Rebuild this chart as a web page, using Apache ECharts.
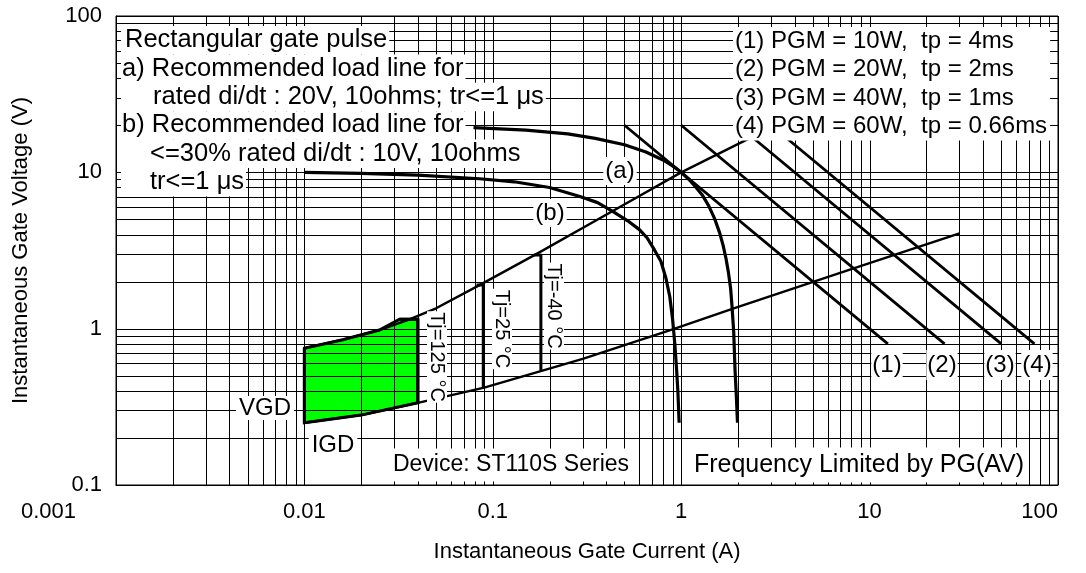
<!DOCTYPE html>
<html>
<head>
<meta charset="utf-8">
<title>Gate characteristics</title>
<script src="https://cdn.jsdelivr.net/npm/echarts@6/dist/echarts.min.js"></script>
<style>
  html, body { margin: 0; padding: 0; background: #fff; }
  #chart { width: 1086px; height: 573px; }
</style>
</head>
<body>
<div id="chart"></div>
<script>
// [gate current (A), gate voltage (V)]
const loadLineA = [[0.079, 19.3], [0.15, 18.6], [0.25, 17.6], [0.35, 16.5], [0.5, 15], [0.65, 13.5],
  [0.8, 12], [0.9, 11], [1, 10], [1.1, 9], [1.2, 8], [1.3, 7.1], [1.4, 6.1], [1.5, 5.1], [1.6, 4.1],
  [1.67, 3.4], [1.73, 2.8], [1.78, 2.3], [1.83, 1.8], [1.86, 1.4], [1.9, 0.95], [1.93, 0.55],
  [1.96, 0.38], [1.99, 0.25]];
const loadLineB = [[0.01, 10], [0.02, 9.85], [0.04, 9.6], [0.085, 9.1], [0.13, 8.7], [0.2, 8.0],
  [0.29, 7.0], [0.36, 6.4], [0.435, 5.6], [0.52, 4.9], [0.6, 4.3], [0.66, 3.8], [0.72, 3.2],
  [0.78, 2.7], [0.83, 2.1], [0.87, 1.6], [0.9, 1.15], [0.925, 0.8], [0.945, 0.55], [0.96, 0.4],
  [0.975, 0.25]];
const upperLimit = [[0.01, 0.75], [0.016, 0.85], [0.025, 0.98], [0.035, 1.13], [0.05, 1.35], [0.085, 1.9],
  [0.17, 3.0], [0.45, 5.8], [1, 10], [2.3, 16.5]];
const lowerLimit = [[0.01, 0.25], [0.02, 0.28], [0.04, 0.335], [0.09, 0.42], [0.3, 0.64], [0.9, 0.99],
  [1.9, 1.35], [8, 2.4], [30, 4.07]];
const tj125 = [[0.032, 1.15], [0.04, 1.15], [0.04, 0.336]];
const tj25 = [[0.082, 1.9], [0.089, 1.9], [0.089, 0.42]];
const tjMinus40 = [[0.165, 2.96], [0.18, 2.96], [0.18, 0.54]];
const vgdLine = [[0.01, 0.25], [0.01, 0.75]];
const greenArea = [[0.01, 0.75], [0.016, 0.85], [0.025, 0.98], [0.032, 1.15], [0.04, 1.15],
  [0.04, 0.336], [0.02, 0.28], [0.01, 0.25]];
const pgm1 = [[0.5, 20], [12.5, 0.8]];
const pgm2 = [[1, 20], [25, 0.8]];
const pgm3 = [[2, 20], [50, 0.8]];
const pgm4 = [[3, 20], [75, 0.8]];

const xDecades = [0.001, 0.01, 0.1, 1, 10, 100];
const yDecades = [0.1, 1, 10, 100];

const FONT = '"Liberation Sans", Arial, Helvetica, sans-serif';

function gridValues(decades) {
  const out = [];
  for (let i = 0; i < decades.length - 1; i++) {
    for (let k = 1; k <= 9; k++) out.push(parseFloat((k * decades[i]).toPrecision(3)));
  }
  out.push(decades[decades.length - 1]);
  return out;
}
const xGrid = gridValues(xDecades);
const yGrid = gridValues(yDecades);

function fmt(v) {
  return String(parseFloat(Number(v).toPrecision(4)));
}

// polygon clipping against one cell of the paper (Sutherland-Hodgman)
function clipEdge(pts, inside, cross) {
  const out = [];
  for (let i = 0; i < pts.length; i++) {
    const cur = pts[i], prev = pts[(i + pts.length - 1) % pts.length];
    const cin = inside(cur), pin = inside(prev);
    if (cin) {
      if (!pin) out.push(cross(prev, cur));
      out.push(cur);
    } else if (pin) {
      out.push(cross(prev, cur));
    }
  }
  return out;
}
function atX(a, b, x) { const t = (x - a[0]) / (b[0] - a[0]); return [x, a[1] + t * (b[1] - a[1])]; }
function atY(a, b, y) { const t = (y - a[1]) / (b[1] - a[1]); return [a[0] + t * (b[0] - a[0]), y]; }
function clipRect(pts, x0, x1, y0, y1) {
  pts = clipEdge(pts, function (p) { return p[0] >= x0; }, function (a, b) { return atX(a, b, x0); });
  if (pts.length) pts = clipEdge(pts, function (p) { return p[0] <= x1; }, function (a, b) { return atX(a, b, x1); });
  if (pts.length) pts = clipEdge(pts, function (p) { return p[1] >= y0; }, function (a, b) { return atY(a, b, y0); });
  if (pts.length) pts = clipEdge(pts, function (p) { return p[1] <= y1; }, function (a, b) { return atY(a, b, y1); });
  return pts;
}

function curve(name, data, width) {
  return {
    name: name, type: 'line', data: data, z: 3, silent: true,
    showSymbol: false, symbol: 'none', animation: false,
    lineStyle: { color: '#000', width: width, join: 'round' }
  };
}

function label(text, x, y, opts) {
  opts = opts || {};
  return {
    type: 'text', x: x, y: y, z: 100, silent: true,
    rotation: opts.rotation || 0,
    style: {
      text: text, fill: '#000',
      fontSize: opts.fontSize || 24, fontFamily: FONT,
      align: opts.align || 'center', verticalAlign: opts.verticalAlign || 'middle',
      lineHeight: opts.lineHeight,
      backgroundColor: '#fff',
      padding: opts.padding || [2, 2]
    }
  };
}

const noteRows = [
  ['Rectangular gate pulse', 4],
  ['a) Recommended load line for', 1],
  ['rated di/dt : 20V, 10ohms; tr<=1 μs', 32],
  ['b) Recommended load line for', 1],
  ['<=30% rated di/dt : 10V, 10ohms', 29],
  ['tr<=1 μs', 29]
];

const graphics = [];
noteRows.forEach(function (row, i) {
  graphics.push(label(row[0], 121, 26 + i * 28.4,
    { align: 'left', verticalAlign: 'top', fontSize: 25.5, lineHeight: 28.5, padding: [0, 2, 0, row[1]] }));
});
graphics.push(label([
  '(1) PGM = 10W,  tp = 4ms',
  '(2) PGM = 20W,  tp = 2ms',
  '(3) PGM = 40W,  tp = 1ms',
  '(4) PGM = 60W,  tp = 0.66ms'
].join('\n'), 733, 27, { align: 'left', verticalAlign: 'top', lineHeight: 28.4, padding: [0, 3, 0, 2] }));

graphics.push(label('(a)', 620, 171));
graphics.push(label('(b)', 550, 213));
graphics.push(label('Tj=125 °C', 437, 357, { rotation: -Math.PI / 2, fontSize: 20, padding: [0, 1] }));
graphics.push(label('Tj=25 °C', 502, 329, { rotation: -Math.PI / 2, fontSize: 20, padding: [0, 1] }));
graphics.push(label('Tj=-40 °C', 554, 306, { rotation: -Math.PI / 2, fontSize: 20, padding: [0, 1] }));
graphics.push(label('VGD', 265, 408, { padding: [0, 3] }));
graphics.push(label('IGD', 333, 445, { padding: [1, 3] }));
graphics.push(label('Device: ST110S Series', 511, 465, { fontSize: 23, padding: [5, 4] }));
graphics.push(label('Frequency Limited by PG(AV)', 859, 465, { fontSize: 25, padding: [5, 3] }));
graphics.push(label('(1)', 887, 365, { padding: [3, 1] }));
graphics.push(label('(2)', 942, 365, { padding: [3, 1] }));
graphics.push(label('(3)', 1000, 365, { padding: [3, 1] }));
graphics.push(label('(4)', 1037, 365, { padding: [3, 1] }));

const chart = echarts.init(document.getElementById('chart'), null, { renderer: 'canvas' });

const option = {
  animation: false,
  backgroundColor: '#fff',
  textStyle: { fontFamily: FONT },
  grid: {
    left: 116, right: 28, top: 16, bottom: 88,
    show: true, borderColor: '#000', borderWidth: 1,
    outerBoundsMode: 'none'
  },
  xAxis: {
    type: 'log', logBase: 10, min: 0.001, max: 100,
    name: 'Instantaneous Gate Current (A)', nameLocation: 'middle', nameGap: 56,
    nameTextStyle: { fontSize: 22, color: '#000', fontFamily: FONT },
    axisLine: { show: true, lineStyle: { color: '#000', width: 1 } },
    axisTick: { show: false },
    splitLine: { show: false },
    axisLabel: {
      fontSize: 22, color: '#000', fontFamily: FONT, margin: 16,
      alignMinLabel: 'right', alignMaxLabel: 'right',
      formatter: function (v) {
        const s = fmt(v);
        return s === '0.001' ? '{m|' + s + '}' : s;
      },
      rich: { m: { fontSize: 22, color: '#000', fontFamily: FONT, padding: [0, 40, 0, 0] } }
    }
  },
  yAxis: {
    type: 'log', logBase: 10, min: 0.1, max: 100,
    name: 'Instantaneous Gate Voltage (V)', nameLocation: 'middle', nameGap: 84,
    nameTextStyle: { fontSize: 22, color: '#000', fontFamily: FONT },
    axisLine: { show: true, lineStyle: { color: '#000', width: 1 } },
    axisTick: { show: false },
    splitLine: { show: false },
    axisLabel: { fontSize: 22, color: '#000', fontFamily: FONT, margin: 14, formatter: fmt }
  },
  series: [
    {
      // green area filled cell by cell, leaving the 1 px paper grid lines uncovered
      name: 'trigger area', type: 'custom', coordinateSystem: 'cartesian2d', z: 1, silent: true,
      data: [greenArea[0]],
      renderItem: function (params, api) {
        const pts = greenArea.map(function (p) { return api.coord(p); });
        const xs = xGrid.map(function (v) { return Math.round(api.coord([v, yDecades[0]])[0]); })
          .sort(function (a, b) { return a - b; });
        const ys = yGrid.map(function (v) { return Math.round(api.coord([xDecades[0], v])[1]); })
          .sort(function (a, b) { return a - b; });
        const children = [];
        for (let i = 0; i < xs.length - 1; i++) {
          for (let j = 0; j < ys.length - 1; j++) {
            const cell = clipRect(pts, xs[i] + 1, xs[i + 1], ys[j] + 1, ys[j + 1]);
            if (cell.length >= 3) {
              children.push({ type: 'polygon', shape: { points: cell },
                style: { fill: '#00ff00', stroke: null, lineWidth: 0 } });
            }
          }
        }
        children.push({ type: 'polygon', shape: { points: pts },
          style: { fill: null, stroke: '#000', lineWidth: 3 } });
        return { type: 'group', children: children };
      }
    },
    {
      // 1-2-3...9 log paper grid
      name: 'paper', type: 'custom', coordinateSystem: 'cartesian2d', z: 2, silent: true,
      data: [[xDecades[0], yDecades[0]]],
      renderItem: function (params, api) {
        const yLo = yDecades[0], yHi = yDecades[yDecades.length - 1];
        const xLo = xDecades[0], xHi = xDecades[xDecades.length - 1];
        const lines = [];
        xGrid.forEach(function (v) {
          const a = api.coord([v, yLo]), b = api.coord([v, yHi]);
          const x = Math.round(a[0]) + 0.5;
          lines.push({ type: 'line', shape: { x1: x, y1: a[1], x2: x, y2: b[1] },
            style: { stroke: '#000', lineWidth: 1 } });
        });
        yGrid.forEach(function (v) {
          const a = api.coord([xLo, v]), b = api.coord([xHi, v]);
          const y = Math.round(a[1]) + 0.5;
          lines.push({ type: 'line', shape: { x1: a[0], y1: y, x2: b[0], y2: y },
            style: { stroke: '#000', lineWidth: 1 } });
        });
        return { type: 'group', children: lines };
      }
    },
    curve('(a)', loadLineA, 3.2),
    curve('(b)', loadLineB, 3.2),
    curve('upper', upperLimit, 2.4),
    curve('lower', lowerLimit, 2.4),
    curve('Tj=125', tj125, 3),
    curve('Tj=25', tj25, 3),
    curve('Tj=-40', tjMinus40, 3),
    curve('VGD', vgdLine, 3),
    curve('(1)', pgm1, 2.8),
    curve('(2)', pgm2, 2.8),
    curve('(3)', pgm3, 2.8),
    curve('(4)', pgm4, 2.8)
  ],
  graphic: graphics
};

chart.setOption(option);
</script>
</body>
</html>
